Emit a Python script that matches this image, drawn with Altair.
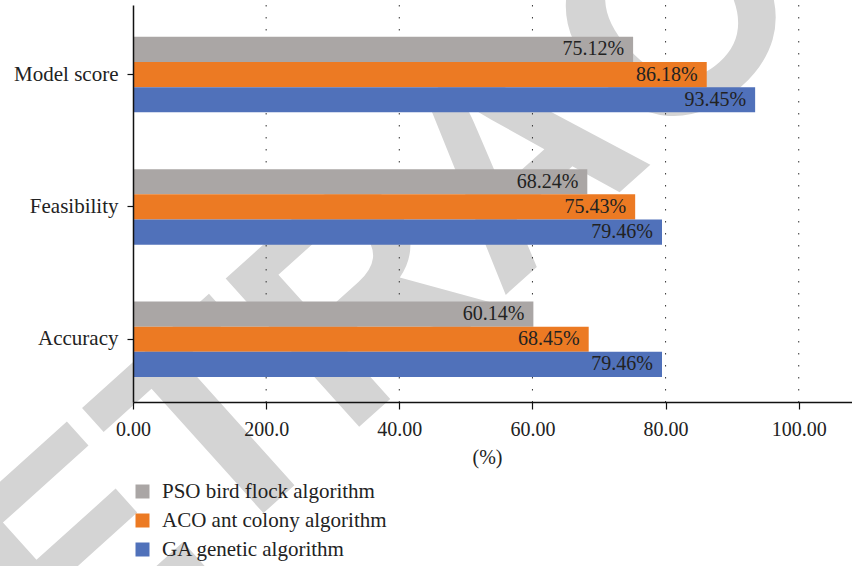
import altair as alt
import pandas as pd

# Category rows (top to bottom) and the three algorithm series
categories = ["Model score", "Feasibility", "Accuracy"]
series = ["PSO bird flock algorithm", "ACO ant colony algorithm", "GA genetic algorithm"]
colors = ["#aaa6a5", "#ec7a23", "#5071ba"]
pso_values = [75.12, 68.24, 60.14]
aco_values = [86.18, 75.43, 68.45]
ga_values = [93.45, 79.46, 79.46]
tick_values = [0, 20, 40, 60, 80, 100]
tick_labels = ["0.00", "200.0", "40.00", "60.00", "80.00", "100.00"]

rows = []
for name, vals in zip(series, [pso_values, aco_values, ga_values]):
    for cat, v in zip(categories, vals):
        rows.append({"category": cat, "algorithm": name, "value": v, "label": f"{v:.2f}%"})
df = pd.DataFrame(rows)

FONT = "Liberation Serif"
TEXT = "#222222"

# tick label lookup as a nested conditional expression
label_expr = "''"
for v, lab in reversed(list(zip(tick_values, tick_labels))):
    label_expr = f"datum.value == {v} ? '{lab}' : ({label_expr})"

x_scale = alt.Scale(domain=[0, 108], nice=False, zero=True)
y_scale = alt.Scale(domain=categories, paddingInner=0.43, paddingOuter=0.215, align=0.56)
off_scale = alt.Scale(domain=series, paddingInner=0, paddingOuter=0)

x_axis = alt.Axis(values=tick_values, labelExpr=label_expr, title="(%)",
                  titleFont=FONT, titleFontSize=20, titleFontWeight="normal",
                  titleColor=TEXT, titlePadding=8, titleX=354,
                  labelFont=FONT, labelFontSize=20, labelColor=TEXT, labelFlush=False,
                  tickSize=7, labelPadding=10, domain=True, ticks=True,
                  domainColor="#111111", tickColor="#111111", domainWidth=1.5,
                  tickWidth=1.2, grid=False, zindex=1)
y_axis = alt.Axis(title=None, labelFont=FONT, labelFontSize=21, labelColor=TEXT,
                  tickSize=6, labelPadding=9, domainColor="#111111", tickColor="#111111",
                  domainWidth=1.5, tickWidth=1.2, grid=False, zindex=1)

# faint diagonal stamp behind everything
stamp = alt.Chart(pd.DataFrame({"t": ["RETRACTED"]})).mark_text(
    angle=318, fontSize=290, font="Liberation Sans", fontWeight="bold",
    color="#d4d4d4", align="center", baseline="middle",
).encode(x=alt.value(387), y=alt.value(160), text="t:N")

# dotted vertical gridlines
grid = alt.Chart(pd.DataFrame({"v": tick_values[1:]})).mark_rule(
    strokeDash=[1.5, 10.5], color="#333333", strokeWidth=1
).encode(x=alt.X("v:Q", scale=x_scale, axis=x_axis))

y_enc = alt.Y("category:N", sort=categories, scale=y_scale, axis=y_axis)
off_enc = alt.YOffset("algorithm:N", sort=series, scale=off_scale)
x_enc = alt.X("value:Q", scale=x_scale, axis=x_axis)

bars = alt.Chart(df).mark_bar().encode(
    y=y_enc, yOffset=off_enc, x=x_enc,
    color=alt.Color(
        "algorithm:N", sort=series, scale=alt.Scale(domain=series, range=colors),
        legend=alt.Legend(orient="none", legendX=-1, legendY=476, title=None,
                          symbolType="square", symbolSize=196, symbolStrokeWidth=0,
                          labelFont=FONT, labelFontSize=21, labelColor=TEXT,
                          labelLimit=0, rowPadding=7, labelOffset=9, padding=0),
    ),
)

labels = alt.Chart(df).mark_text(
    align="right", baseline="middle", dx=-9, font=FONT, fontSize=20, color=TEXT
).encode(y=y_enc, yOffset=off_enc, x=x_enc, text="label:N")

chart = alt.layer(stamp, grid, bars, labels).properties(
    width=719, height=397,
    background="white",
    autosize=alt.AutoSizeParams(type="none"),
    padding={"left": 133, "top": 5, "right": 0, "bottom": 164},
).configure_view(strokeWidth=0, stroke="transparent")

chart.save("out.html", embed_options={"renderer": "svg", "actions": False})
